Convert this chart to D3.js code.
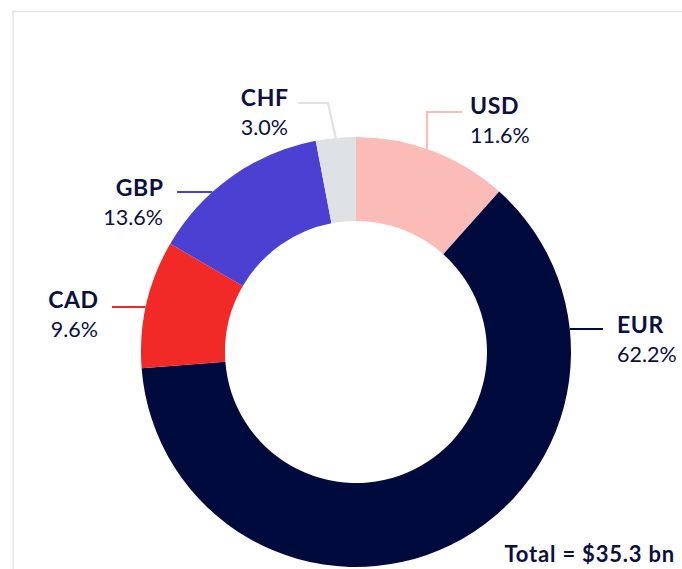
<!DOCTYPE html>
<html>
<head>
<meta charset="utf-8">
<script src="https://cdn.jsdelivr.net/npm/d3@7"></script>
<style>
  html, body { margin: 0; padding: 0; background: #fff; }
  svg { display: block; }
  text { font-family: Lato, "Open Sans", sans-serif; fill: #0b1040; }
</style>
</head>
<body>
<svg id="chart" width="682" height="569"></svg>
<script>
// ---- data ----
const currencies = ["USD", "EUR", "CAD", "GBP", "CHF"];
const shares = [11.6, 62.2, 9.6, 13.6, 3.0];
const totalLabel = "Total = $35.3 bn";

// ---- styles / layout (not data) ----
const colors = ["#fbbcb8", "#000a3d", "#f22a27", "#4c40d3", "#dfe2e5"];
const W = 682, H = 569;
const cx = 356, cy = 352, rOuter = 215, rInner = 131;

// label placement relative to the centre: text anchor point, connector row and elbow
const labelLayout = {
  USD: { tx: 114, ty: -238, anchor: "start", lineY: -240, lineX: 106, elbowX: 71, mode: "vertical" },
  EUR: { tx: 261, ty: -19, anchor: "start", lineY: -23, lineX: 247, mode: "horizontal" },
  CAD: { tx: -258, ty: -44, anchor: "end", lineY: -45, lineX: -244, mode: "horizontal" },
  GBP: { tx: -193, ty: -156, anchor: "end", lineY: -160, lineX: -179, mode: "horizontal" },
  CHF: { tx: -68, ty: -246, anchor: "end", lineY: -249, lineX: -58, elbowX: -28, mode: "centroid" }
};

const svg = d3.select("#chart");

// frame lines (top and left)
svg.append("line").attr("x1", 12).attr("x2", W).attr("y1", 11.5).attr("y2", 11.5)
  .attr("stroke", "#e2e5e9").attr("stroke-width", 1.5);
svg.append("line").attr("x1", 13).attr("x2", 13).attr("y1", 11).attr("y2", H)
  .attr("stroke", "#e2e5e9").attr("stroke-width", 1.5);

const data = currencies.map((c, i) => ({ name: c, value: shares[i], color: colors[i] }));

const pie = d3.pie().value(d => d.value).sort(null).startAngle(0).endAngle(2 * Math.PI);
const arcs = pie(data);
const arc = d3.arc().innerRadius(rInner).outerRadius(rOuter);

const g = svg.append("g").attr("transform", `translate(${cx},${cy})`);

g.selectAll("path.slice").data(arcs).enter().append("path")
  .attr("class", "slice")
  .attr("d", arc)
  .attr("fill", d => d.data.color);

// connectors
arcs.forEach(a => {
  const L = labelLayout[a.data.name];
  let pts;
  if (L.mode === "horizontal") {
    const ax = Math.sign(L.lineX) * Math.sqrt(rOuter * rOuter - L.lineY * L.lineY);
    pts = [[L.lineX, L.lineY], [ax, L.lineY]];
  } else if (L.mode === "vertical") {
    const ay = -Math.sqrt(rOuter * rOuter - L.elbowX * L.elbowX);
    pts = [[L.lineX, L.lineY], [L.elbowX, L.lineY], [L.elbowX, ay]];
  } else {
    const mid = (a.startAngle + a.endAngle) / 2;
    const px = rOuter * Math.sin(mid), py = -rOuter * Math.cos(mid);
    pts = [[L.lineX, L.lineY], [L.elbowX, L.lineY], [px, py]];
  }
  g.append("path")
    .attr("d", d3.line()(pts))
    .attr("fill", "none")
    .attr("stroke", a.data.color)
    .attr("stroke-width", 2.2);

  const shift = L.anchor === "end" ? 0.6 : 0;
  const t = g.append("text")
    .attr("text-anchor", L.anchor)
    .attr("x", L.tx).attr("y", L.ty);
  t.append("tspan").attr("x", L.tx + shift).attr("font-weight", 700).attr("font-size", 23)
    .attr("letter-spacing", 0.6)
    .text(a.data.name);
  t.append("tspan").attr("x", L.tx).attr("dy", 29).attr("font-weight", 400).attr("font-size", 21.5)
    .attr("letter-spacing", 0)
    .text(d3.format(".1f")(a.data.value) + "%");
});

svg.append("text")
  .attr("x", 675).attr("y", 562)
  .attr("text-anchor", "end")
  .attr("font-weight", 700)
  .attr("font-size", 22)
  .attr("letter-spacing", 0.8)
  .text(totalLabel);
</script>
</body>
</html>
